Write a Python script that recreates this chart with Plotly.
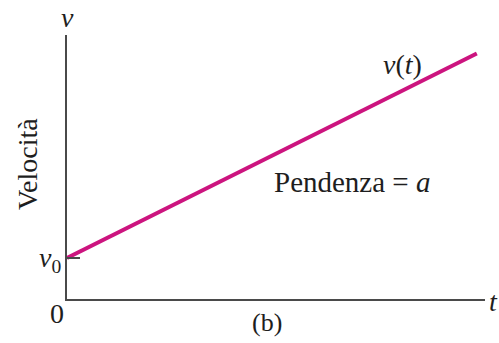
import plotly.graph_objects as go

# Velocity vs time for uniformly accelerated motion
t_vals = [0, 10]
v_vals = [1.55, 9.3]
v0 = v_vals[0]

line_color = "#CC147F"
axis_color = "#4a4a4a"
text_color = "#1e1e1e"
serif = "'Liberation Serif', 'Times New Roman', Times, serif"

fig = go.Figure()
fig.add_trace(go.Scatter(
    x=t_vals, y=v_vals, mode="lines",
    line=dict(color=line_color, width=4),
    hoverinfo="skip", showlegend=False,
))

W, H = 499, 343
L, R, T, B = 67, 14, 35, 44
pw, ph = W - L - R, H - T - B


def px(x, y):
    """Convert pixel position to paper coordinates."""
    return (x - L) / pw, (H - B - y) / ph


def label(text, x, y, size=28, angle=0, xanchor="center"):
    ux, uy = px(x, y)
    fig.add_annotation(
        x=ux, y=uy, xref="paper", yref="paper", text=text,
        showarrow=False, textangle=angle, xanchor=xanchor, yanchor="middle",
        font=dict(family=serif, size=size, color=text_color),
    )


label("<i>v</i>", 67, 17)
label("<i>t</i>", 493, 301)
label("0", 57, 313)
label("<i>v</i><sub>0</sub>", 63, 259, xanchor="right")
label("<i>v</i>(<i>t</i>)", 402, 64)
label("Pendenza = <i>a</i>", 352, 182, size=29)
label("(b)", 267, 322, size=26)
label("Velocità", 27, 164, angle=-90)

fig.update_layout(
    width=W, height=H,
    margin=dict(l=L, r=R, t=T, b=B),
    plot_bgcolor="white", paper_bgcolor="white",
    font=dict(family=serif),
    xaxis=dict(range=[0, 10.2], showgrid=False, zeroline=False,
               showline=True, linecolor=axis_color, linewidth=2,
               showticklabels=False, ticks=""),
    yaxis=dict(range=[0, 10], showgrid=False, zeroline=False,
               showline=True, linecolor=axis_color, linewidth=2,
               showticklabels=False, ticks="inside", tickvals=[v0],
               ticklen=13, tickwidth=2, tickcolor=axis_color),
)

fig.write_html("out.html")
